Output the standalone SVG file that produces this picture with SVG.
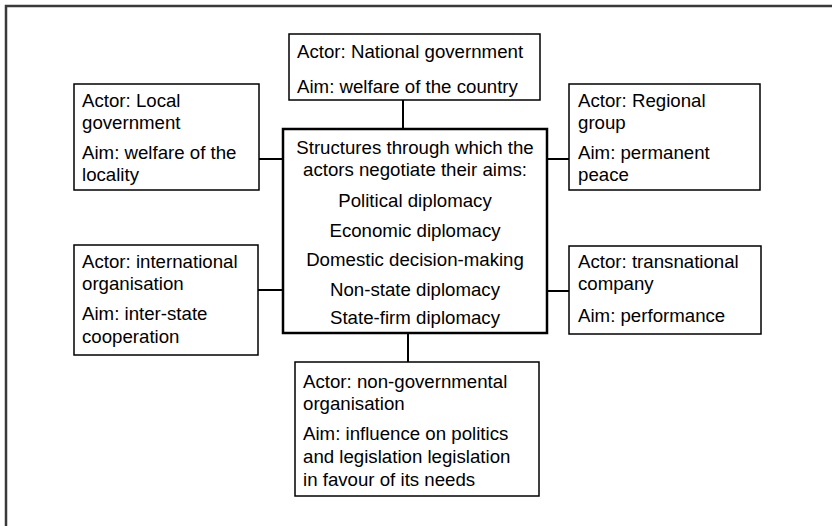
<svg xmlns="http://www.w3.org/2000/svg" width="832" height="526" viewBox="0 0 832 526">
<style>
  text { font-family: "Liberation Sans", Arial, sans-serif; font-size: 18.67px; fill: #000; }
  .box { fill: #fff; stroke: #000; stroke-width: 1.5; }
  .main { fill: #fff; stroke: #000; stroke-width: 2.5; }
  .conn { stroke: #000; stroke-width: 2; fill: none; }
  .frame { stroke: #3a3a3a; stroke-width: 2.5; fill: none; }
  .c { text-anchor: middle; }
</style>
<rect width="832" height="526" fill="#fff"/>
<path class="frame" d="M6,526 L6,6 L832,6"/>
<g id="connectors">
  <line class="conn" x1="403" y1="100" x2="403" y2="129"/>
  <line class="conn" x1="408" y1="333" x2="408" y2="362"/>
  <line class="conn" x1="259" y1="159" x2="283" y2="159"/>
  <line class="conn" x1="547" y1="159" x2="569" y2="159"/>
  <line class="conn" x1="258" y1="290" x2="283" y2="290"/>
  <line class="conn" x1="547" y1="291" x2="569" y2="291"/>
</g>
<g id="national">
  <rect class="box" x="289" y="34" width="251" height="66"/>
  <text x="297" y="58">Actor: National government</text>
  <text x="297" y="93">Aim: welfare of the country</text>
</g>
<g id="local">
  <rect class="box" x="74" y="84" width="185" height="106"/>
  <text x="82" y="107">Actor: Local</text>
  <text x="82" y="129">government</text>
  <text x="82" y="159">Aim: welfare of the</text>
  <text x="82" y="181">locality</text>
</g>
<g id="regional">
  <rect class="box" x="569" y="84" width="191" height="106"/>
  <text x="578" y="107">Actor: Regional</text>
  <text x="578" y="129">group</text>
  <text x="578" y="159">Aim: permanent</text>
  <text x="578" y="181">peace</text>
</g>
<g id="center">
  <rect class="main" x="283" y="129" width="264" height="204"/>
  <text class="c" x="415" y="154">Structures through which the</text>
  <text class="c" x="415" y="176">actors negotiate their aims:</text>
  <text class="c" x="415" y="207">Political diplomacy</text>
  <text class="c" x="415" y="237">Economic diplomacy</text>
  <text class="c" x="415" y="266">Domestic decision-making</text>
  <text class="c" x="415" y="296">Non-state diplomacy</text>
  <text class="c" x="415" y="324">State-firm diplomacy</text>
</g>
<g id="international">
  <rect class="box" x="74" y="245" width="184" height="110"/>
  <text x="82" y="268">Actor: international</text>
  <text x="82" y="290">organisation</text>
  <text x="82" y="320">Aim: inter-state</text>
  <text x="82" y="343">cooperation</text>
</g>
<g id="transnational">
  <rect class="box" x="569" y="246" width="192" height="88"/>
  <text x="578" y="268">Actor: transnational</text>
  <text x="578" y="290">company</text>
  <text x="578" y="322">Aim: performance</text>
</g>
<g id="ngo">
  <rect class="box" x="295" y="362" width="244" height="134"/>
  <text x="303" y="388">Actor: non-governmental</text>
  <text x="303" y="410">organisation</text>
  <text x="303" y="440">Aim: influence on politics</text>
  <text x="303" y="463">and legislation legislation</text>
  <text x="303" y="486">in favour of its needs</text>
</g>
</svg>
